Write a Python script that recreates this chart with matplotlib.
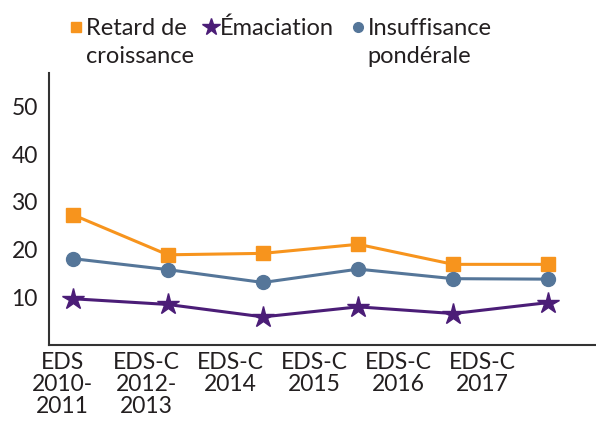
import matplotlib.pyplot as plt
from matplotlib.lines import Line2D
import numpy as np

# data
surveys = ['EDS\n2010-\n2011', 'EDS-C\n2012-\n2013', 'EDS-C\n2014',
           'EDS-C\n2015', 'EDS-C\n2016', 'EDS-C\n2017']
retard = [27.3, 18.9, 19.2, 21.1, 16.9, 16.9]
emaciation = [9.7, 8.5, 5.9, 8.0, 6.6, 8.9]
insuffisance = [18.1, 15.8, 13.1, 15.9, 13.9, 13.8]

orange = '#F7941D'
purple = '#4B1D77'
blue = '#557699'
ink = '#231F20'

plt.rcParams['font.family'] = ['Lato', 'DejaVu Sans']

fig = plt.figure(figsize=(5.96, 4.26), dpi=100)
ax = fig.add_axes([0.082, 0.19, 0.918, 0.639])

x = np.arange(len(surveys))
ax.plot(x, retard, color=orange, lw=2.2, marker='s', ms=10)
ax.plot(x, emaciation, color=purple, lw=2.2, marker='*', ms=16)
ax.plot(x, insuffisance, color=blue, lw=2.2, marker='o', ms=10)

ax.set_xlim(-0.25, 5.5)
ax.set_ylim(0, 57)
ax.set_yticks([10, 20, 30, 40, 50])
# labels sit on a slightly tighter spacing than the points
ax.set_xticks(-0.105 + 0.883 * x)
ax.set_xticklabels(surveys, linespacing=1.05)
ax.tick_params(length=0, labelsize=16.5, colors=ink, pad=5)
ax.tick_params(axis='y', pad=8)

for s in ['top', 'right']:
    ax.spines[s].set_visible(False)
for s in ['left', 'bottom']:
    ax.spines[s].set_color('#333333')
    ax.spines[s].set_linewidth(1.5)

# legend drawn by hand so the markers line up with the first text line
legend = [('s', orange, 7, 'Retard de\ncroissance', 0.1275, 0.144),
          ('*', purple, 13, 'Émaciation', 0.354, 0.369),
          ('o', blue, 7, 'Insuffisance\npondérale', 0.6007, 0.617)]
for mk, col, ms, txt, mx, tx in legend:
    fig.add_artist(Line2D([mx], [0.9366], marker=mk, color=col, ms=ms,
                          ls='none', transform=fig.transFigure))
    fig.text(tx, 0.958, txt, ha='left', va='top', fontsize=17,
             color=ink, linespacing=1.4)

fig.savefig('out.png', dpi=100)
